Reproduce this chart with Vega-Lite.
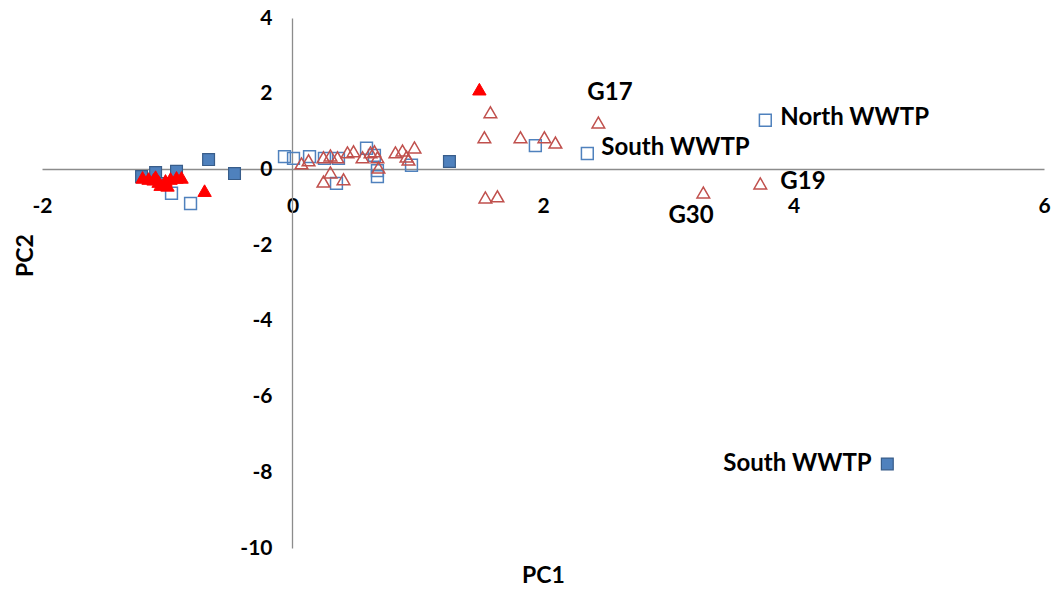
{
  "$schema": "https://vega.github.io/schema/vega-lite/v6.json",
  "autosize": {"type": "none"},
  "width": 1002,
  "height": 530,
  "padding": {"left": 42, "top": 18, "right": 11, "bottom": 44},
  "background": "white",
  "config": {
    "view": {"stroke": null},
    "axis": {
      "grid": false,
      "ticks": false,
      "tickSize": 0,
      "domainColor": "#8c8c8c",
      "domainWidth": 1.3,
      "labelFont": "Lato",
      "labelFontWeight": "bold",
      "labelFontSize": 21,
      "labelColor": "#000000",
      "labelFlush": false,
      "labelOverlap": false,
      "labelExpr": "replace(datum.label, '\u2212', '-')",
      "titleFont": "Lato",
      "titleFontWeight": "bold",
      "titleFontSize": 23,
      "titleColor": "#000000"
    }
  },
  "datasets": {
    "pts": [
      {"type": "fs", "x": -1.205, "y": -0.19},
      {"type": "fs", "x": -1.093, "y": -0.08},
      {"type": "fs", "x": -1.03, "y": -0.37},
      {"type": "fs", "x": -0.926, "y": -0.05},
      {"type": "fs", "x": -0.67, "y": 0.26},
      {"type": "fs", "x": -0.463, "y": -0.11},
      {"type": "fs", "x": 1.253, "y": 0.21},
      {"type": "fs", "x": 4.749, "y": -7.78},
      {"type": "os", "x": -0.966, "y": -0.63},
      {"type": "os", "x": -0.814, "y": -0.9},
      {"type": "os", "x": -0.064, "y": 0.34},
      {"type": "os", "x": 0.008, "y": 0.29},
      {"type": "os", "x": 0.136, "y": 0.34},
      {"type": "os", "x": 0.255, "y": 0.29},
      {"type": "os", "x": 0.367, "y": 0.29},
      {"type": "os", "x": 0.591, "y": 0.56},
      {"type": "os", "x": 0.654, "y": 0.37},
      {"type": "os", "x": 0.678, "y": -0.03},
      {"type": "os", "x": 0.678, "y": -0.19},
      {"type": "os", "x": 0.351, "y": -0.37},
      {"type": "os", "x": 0.95, "y": 0.11},
      {"type": "os", "x": 1.939, "y": 0.63},
      {"type": "os", "x": 2.354, "y": 0.42},
      {"type": "os", "x": 3.775, "y": 1.3},
      {"type": "ot", "x": 0.072, "y": 0.16},
      {"type": "ot", "x": 0.128, "y": 0.24},
      {"type": "ot", "x": 0.247, "y": 0.32},
      {"type": "ot", "x": 0.303, "y": 0.37},
      {"type": "ot", "x": 0.359, "y": 0.32},
      {"type": "ot", "x": 0.439, "y": 0.45},
      {"type": "ot", "x": 0.487, "y": 0.48},
      {"type": "ot", "x": 0.559, "y": 0.32},
      {"type": "ot", "x": 0.623, "y": 0.45},
      {"type": "ot", "x": 0.654, "y": 0.48},
      {"type": "ot", "x": 0.678, "y": 0.32},
      {"type": "ot", "x": 0.686, "y": 0.05},
      {"type": "ot", "x": 0.303, "y": -0.08},
      {"type": "ot", "x": 0.247, "y": -0.32},
      {"type": "ot", "x": 0.407, "y": -0.26},
      {"type": "ot", "x": 0.822, "y": 0.45},
      {"type": "ot", "x": 0.878, "y": 0.5},
      {"type": "ot", "x": 0.91, "y": 0.34},
      {"type": "ot", "x": 0.926, "y": 0.26},
      {"type": "ot", "x": 0.974, "y": 0.58},
      {"type": "ot", "x": 1.532, "y": 0.85},
      {"type": "ot", "x": 1.58, "y": 1.51},
      {"type": "ot", "x": 1.82, "y": 0.85},
      {"type": "ot", "x": 2.011, "y": 0.85},
      {"type": "ot", "x": 2.099, "y": 0.71},
      {"type": "ot", "x": 2.442, "y": 1.24},
      {"type": "ot", "x": 1.54, "y": -0.74},
      {"type": "ot", "x": 1.636, "y": -0.71},
      {"type": "ot", "x": 3.28, "y": -0.61},
      {"type": "ot", "x": 3.735, "y": -0.37},
      {"type": "ft", "x": -1.197, "y": -0.21},
      {"type": "ft", "x": -1.149, "y": -0.24},
      {"type": "ft", "x": -1.109, "y": -0.26},
      {"type": "ft", "x": -1.069, "y": -0.32},
      {"type": "ft", "x": -1.053, "y": -0.4},
      {"type": "ft", "x": -1.014, "y": -0.29},
      {"type": "ft", "x": -0.974, "y": -0.24},
      {"type": "ft", "x": -0.926, "y": -0.21},
      {"type": "ft", "x": -0.886, "y": -0.21},
      {"type": "ft", "x": -0.998, "y": -0.42},
      {"type": "ft", "x": -1.093, "y": -0.19},
      {"type": "ft", "x": -0.702, "y": -0.56},
      {"type": "ft", "x": 1.492, "y": 2.12}
    ],
    "labels": [
      {"label": "G17", "x": 2.354, "y": 2.01},
      {"label": "North WWTP", "x": 3.895, "y": 1.35},
      {"label": "South WWTP", "x": 2.466, "y": 0.56},
      {"label": "G19", "x": 3.895, "y": -0.34},
      {"label": "G30", "x": 3.001, "y": -1.22},
      {"label": "South WWTP", "x": 3.44, "y": -7.78}
    ]
  },
  "encoding": {
    "x": {
      "field": "x", "type": "quantitative",
      "scale": {"domain": [-2, 6], "nice": false, "zero": false},
      "axis": {
        "values": [-2, 0, 2, 4, 6],
        "offset": -379,
        "labelPadding": 26,
        "title": "PC1",
        "titleX": 501,
        "titleY": 406,
        "titleBaseline": "middle",
        "titleAlign": "center",
        "titleAnchor": null
      }
    },
    "y": {
      "field": "y", "type": "quantitative",
      "scale": {"domain": [-10, 4], "nice": false, "zero": false},
      "axis": {
        "values": [-10, -8, -6, -4, -2, 0, 2, 4],
        "offset": -250,
        "labelPadding": 20,
        "title": "PC2",
        "titleX": -267,
        "titleY": 237,
        "titleAngle": -90,
        "titleBaseline": "middle",
        "titleAlign": "center",
        "titleAnchor": null
      }
    }
  },
  "layer": [
    {
      "data": {"name": "pts"},
      "transform": [{"filter": "datum.type === 'fs'"}],
      "mark": {"type": "point", "shape": "square", "filled": true, "fill": "#4F81BD", "stroke": "#385D8A", "strokeWidth": 1.2, "size": 140, "opacity": 1}
    },
    {
      "data": {"name": "pts"},
      "transform": [{"filter": "datum.type === 'os'"}],
      "mark": {"type": "point", "shape": "square", "filled": false, "fill": null, "stroke": "#4F81BD", "strokeWidth": 1.5, "size": 140, "opacity": 1}
    },
    {
      "data": {"name": "pts"},
      "transform": [{"filter": "datum.type === 'ot'"}],
      "mark": {"type": "point", "shape": "triangle-up", "filled": false, "fill": null, "stroke": "#C0504D", "strokeWidth": 1.5, "size": 160, "opacity": 1}
    },
    {
      "data": {"name": "pts"},
      "transform": [{"filter": "datum.type === 'ft'"}],
      "mark": {"type": "point", "shape": "triangle-up", "filled": true, "fill": "#FF0000", "stroke": "#FF0000", "strokeWidth": 1, "size": 180, "opacity": 1}
    },
    {
      "data": {"name": "labels"},
      "mark": {"type": "text", "align": "left", "baseline": "middle", "font": "Lato", "fontWeight": "bold", "fontSize": 24, "color": "#000000"},
      "encoding": {"text": {"field": "label"}}
    }
  ]
}
